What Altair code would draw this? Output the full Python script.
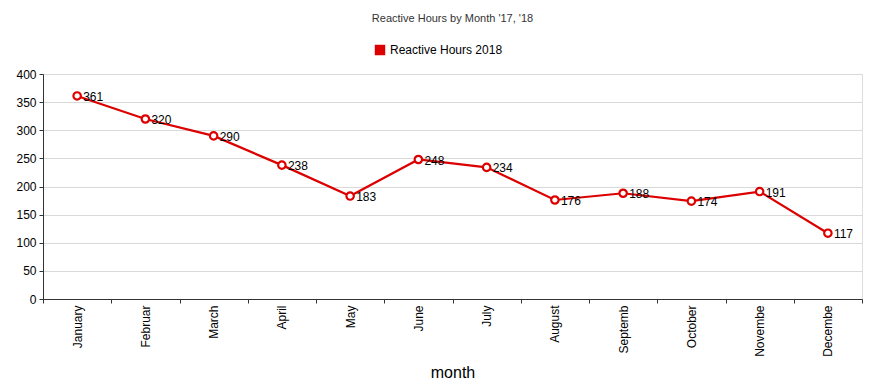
import altair as alt
import pandas as pd

months = ["January", "Februar", "March", "April", "May", "June", "July",
          "August", "Septemb", "October", "Novembe", "Decembe"]
hours = [361, 320, 290, 238, 183, 248, 234, 176, 188, 174, 191, 117]
series = ["Reactive Hours 2018"] * len(months)

df = pd.DataFrame({"month": months, "hours": hours, "series": series})

FONT = "Liberation Sans"
RED = "#dd0000"

x = alt.X("month:N", sort=months, title="month",
          scale=alt.Scale(type="band", paddingInner=0, paddingOuter=0),
          axis=alt.Axis(labelAngle=270, labelFontSize=12, labelColor="#000",
                        labelPadding=2, tickSize=4, tickBand="extent",
                        tickColor="#333", domainColor="#333", grid=False,
                        titleFontSize=16, titleFontWeight="normal",
                        titleColor="#000", titlePadding=8, labelFont=FONT,
                        titleFont=FONT))
y = alt.Y("hours:Q", title=None,
          scale=alt.Scale(domain=[0, 400], nice=False),
          axis=alt.Axis(values=list(range(0, 401, 50)), labelFontSize=12,
                        labelColor="#000", labelPadding=3, tickSize=4,
                        tickColor="#333", domainColor="#333",
                        gridColor="#d9d9d9", labelFont=FONT))
color = alt.Color("series:N", title=None,
                  scale=alt.Scale(range=[RED]),
                  legend=alt.Legend(orient="none", legendX=331, legendY=-30,
                                    symbolType="square", symbolSize=80,
                                    symbolFillColor=RED, symbolStrokeColor=RED,
                                    labelFontSize=12, labelFont=FONT,
                                    labelColor="#000", direction="horizontal"))

base = alt.Chart(df)
line = base.mark_line(strokeWidth=2.2).encode(x=x, y=y, color=color)
pts = base.mark_point(filled=False, fill="white", size=55, strokeWidth=2.2,
                      opacity=1).encode(x=x, y=y, color=alt.Color("series:N", scale=alt.Scale(range=[RED]), legend=None))
labels = base.mark_text(align="left", baseline="middle", dx=6, dy=1,
                        fontSize=12, font=FONT, color="#000").encode(
    x=x, y=y, text="hours:Q")

chart = alt.layer(line, pts, labels).properties(
    width=819, height=225,
    title=alt.TitleParams("Reactive Hours by Month '17, '18", fontSize=11,
                          fontWeight="normal", color="#333", font=FONT,
                          anchor="middle", frame="group", offset=20),
    autosize=alt.AutoSizeParams(type="none"),
    padding={"left": 35, "top": 66, "right": 4, "bottom": 91},
).configure_view(stroke=None).configure(background="white")

chart.save("out.html", embed_options={"renderer": "svg", "actions": False})
